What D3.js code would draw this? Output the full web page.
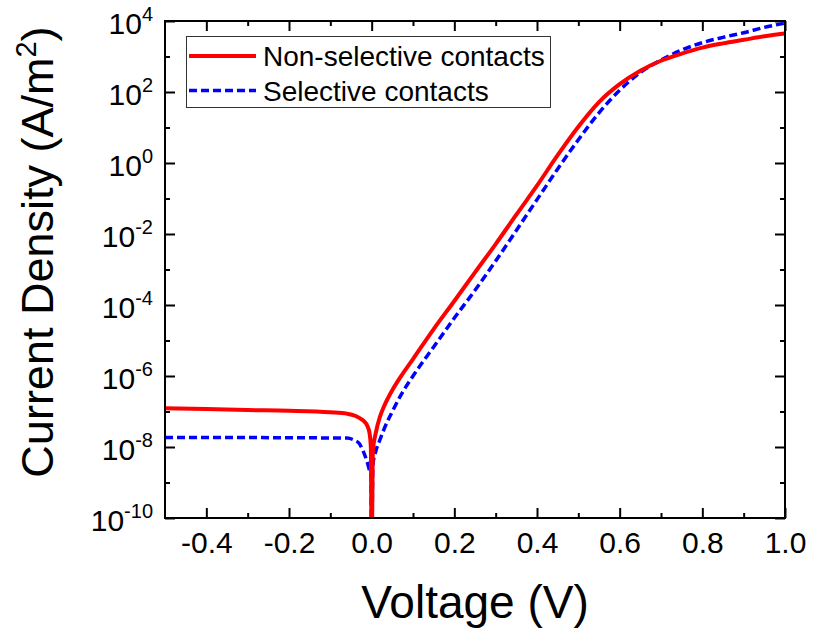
<!DOCTYPE html>
<html>
<head>
<meta charset="utf-8">
<script src="https://cdn.jsdelivr.net/npm/d3@7"></script>
<style>
  body { margin: 0; background: #fff; }
  svg { display: block; font-family: 'Liberation Sans', Arial, sans-serif; }
</style>
</head>
<body>
<div id="chart"></div>
<script>
// voltage (V)
const voltage = [-0.5, -0.4, -0.3, -0.2, -0.1, -0.06, -0.04, -0.03, -0.02, -0.01, -0.005, -0.002, 0,
  0.003, 0.01, 0.02, 0.03, 0.05, 0.07, 0.1, 0.15, 0.2, 0.25, 0.3, 0.35, 0.4, 0.45, 0.5,
  0.55, 0.6, 0.65, 0.7, 0.75, 0.8, 0.85, 0.9, 0.95, 1.0];

// current density (A/m^2), |J|
const jNonSelective = [1.23e-7, 1.17e-7, 1.10e-7, 1.05e-7, 9.5e-8, 8.7e-8, 7.6e-8, 6.6e-8, 5.5e-8, 3.8e-8, 2.4e-8, 1.0e-8, 0,
  7.9e-9, 2.5e-8, 7.1e-8, 1.4e-7, 4.0e-7, 9.5e-7, 3.0e-6, 2.1e-5, 1.3e-4, 8.3e-4, 5.2e-3, 3.5e-2, 0.23, 1.66, 10.5,
  52, 166, 398, 759, 1202, 1778, 2344, 2951, 3715, 4467];

const jSelective = [1.86e-8, 1.86e-8, 1.85e-8, 1.82e-8, 1.80e-8, 1.78e-8, 1.51e-8, 1.26e-8, 7.4e-9, 3.5e-9, 2.2e-9, 2.0e-9, 0,
  3.2e-9, 7.6e-9, 1.6e-8, 3.2e-8, 1.0e-7, 2.8e-7, 1.0e-6, 6.6e-6, 4.3e-5, 2.6e-4, 1.74e-3, 1.26e-2, 9.3e-2, 0.68, 4.5,
  26, 112, 355, 794, 1514, 2455, 3467, 4677, 6607, 8710];

const xTicks = [-0.4, -0.2, 0.0, 0.2, 0.4, 0.6, 0.8, 1.0];
const yExponents = [4, 2, 0, -2, -4, -6, -8, -10];

const W = 813, H = 632;
const pLeft = 165, pRight = 785, pTop = 21, pBottom = 518;

const svg = d3.select('#chart').append('svg')
  .attr('width', W)
  .attr('height', H);

const x = d3.scaleLinear().domain([-0.5, 1.0]).range([pLeft, pRight]);
const y = d3.scaleLog().domain([1e-10, 1e4]).range([pBottom, pTop]);

svg.append('defs').append('clipPath')
  .attr('id', 'plotClip')
  .append('rect')
    .attr('x', pLeft)
    .attr('y', pTop)
    .attr('width', pRight - pLeft)
    .attr('height', pBottom - pTop);

// minor ticks
const xMinor = [-0.3, -0.1, 0.1, 0.3, 0.5, 0.7, 0.9];
const yMinor = d3.range(-9, 4, 2).map(e => Math.pow(10, e));
const yMajor = yExponents.map(e => Math.pow(10, e));

function styleAxis(g) {
  g.select('.domain').remove();
  g.selectAll('.tick line').attr('stroke', '#000').attr('stroke-width', 2);
}

// bottom axis
svg.append('g')
  .attr('transform', `translate(0,${pBottom})`)
  .call(d3.axisBottom(x).tickValues(xTicks).tickSize(-10).tickPadding(14))
  .call(styleAxis)
  .call(g => g.selectAll('.tick text')
    .attr('font-size', 30)
    .attr('fill', '#000')
    .attr('font-family', "'Liberation Sans', Arial, sans-serif")
    .text(d => d3.format('.1f')(d).replace('−', '-')));

svg.append('g')
  .attr('transform', `translate(0,${pBottom})`)
  .call(d3.axisBottom(x).tickValues(xMinor).tickSize(-5).tickFormat(''))
  .call(styleAxis);

// top axis
svg.append('g')
  .attr('transform', `translate(0,${pTop})`)
  .call(d3.axisTop(x).tickValues(xTicks).tickSize(-10).tickFormat(''))
  .call(styleAxis);
svg.append('g')
  .attr('transform', `translate(0,${pTop})`)
  .call(d3.axisTop(x).tickValues(xMinor).tickSize(-5).tickFormat(''))
  .call(styleAxis);

// left axis
svg.append('g')
  .attr('transform', `translate(${pLeft},0)`)
  .call(d3.axisLeft(y).tickValues(yMajor).tickSize(-10).tickPadding(12).tickFormat(''))
  .call(styleAxis)
  .call(g => g.selectAll('.tick text')
    .attr('font-size', 30)
    .attr('fill', '#000')
    .attr('dy', '0.4em')
    .attr('font-family', "'Liberation Sans', Arial, sans-serif")
    .each(function (d) {
      const t = d3.select(this);
      const e = Math.round(Math.log10(d));
      t.append('tspan').text('10');
      t.append('tspan').attr('dy', -13).attr('font-size', 20).text(e < 0 ? '-' + (-e) : e);
    }));
svg.append('g')
  .attr('transform', `translate(${pLeft},0)`)
  .call(d3.axisLeft(y).tickValues(yMinor).tickSize(-5).tickFormat(''))
  .call(styleAxis);

// right axis
svg.append('g')
  .attr('transform', `translate(${pRight},0)`)
  .call(d3.axisRight(y).tickValues(yMajor).tickSize(-10).tickFormat(''))
  .call(styleAxis);
svg.append('g')
  .attr('transform', `translate(${pRight},0)`)
  .call(d3.axisRight(y).tickValues(yMinor).tickSize(-5).tickFormat(''))
  .call(styleAxis);

// curves
const line = d3.line()
  .x(d => x(d[0]))
  .y(d => y(Math.max(d[1], 1e-11)))
  .curve(d3.curveMonotoneX);

const plot = svg.append('g').attr('clip-path', 'url(#plotClip)');

plot.append('path')
  .datum(voltage.map((v, i) => [v, jSelective[i]]))
  .attr('fill', 'none')
  .attr('stroke', '#0000ff')
  .attr('stroke-width', 3.5)
  .attr('stroke-dasharray', '8,4')
  .attr('d', line);

plot.append('path')
  .datum(voltage.map((v, i) => [v, jNonSelective[i]]))
  .attr('fill', 'none')
  .attr('stroke', '#ff0000')
  .attr('stroke-width', 4)
  .attr('d', line);

// frame
svg.append('rect')
  .attr('x', pLeft)
  .attr('y', pTop)
  .attr('width', pRight - pLeft)
  .attr('height', pBottom - pTop)
  .attr('fill', 'none')
  .attr('stroke', '#000')
  .attr('stroke-width', 2);

// legend
const legend = svg.append('g');
legend.append('rect')
  .attr('x', 186.5)
  .attr('y', 36.5)
  .attr('width', 364)
  .attr('height', 71)
  .attr('fill', '#fff')
  .attr('stroke', '#333')
  .attr('stroke-width', 1);

const legendItems = [
  { name: 'Non-selective contacts', color: '#ff0000', dash: null, width: 4 },
  { name: 'Selective contacts', color: '#0000ff', dash: '8,4', width: 3.5 }
];
legendItems.forEach((it, i) => {
  const ly = 56 + i * 34.5;
  legend.append('line')
    .attr('x1', 189).attr('x2', 256)
    .attr('y1', ly).attr('y2', ly)
    .attr('stroke', it.color)
    .attr('stroke-width', it.width)
    .attr('stroke-dasharray', it.dash);
  legend.append('text')
    .attr('x', 263)
    .attr('y', ly + 10)
    .attr('font-size', 28)
    .attr('fill', '#000')
    .text(it.name);
});

// axis titles
svg.append('text')
  .attr('x', (pLeft + pRight) / 2)
  .attr('y', 618)
  .attr('text-anchor', 'middle')
  .attr('font-size', 46)
  .text('Voltage (V)');

const yTitle = svg.append('text')
  .attr('transform', `translate(53,252) rotate(-90)`)
  .attr('text-anchor', 'middle')
  .attr('font-size', 45);
yTitle.append('tspan').text('Current Density (A/m');
yTitle.append('tspan').attr('dy', -17).attr('font-size', 29).text('2');
yTitle.append('tspan').attr('dy', 17).text(')');
</script>
</body>
</html>
